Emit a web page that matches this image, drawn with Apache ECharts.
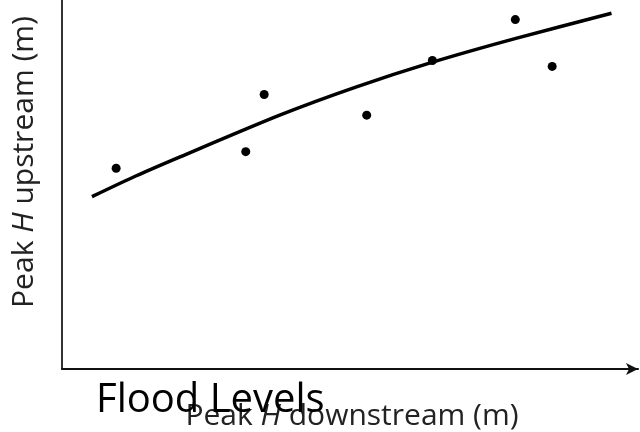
<!DOCTYPE html>
<html>
<head>
<meta charset="utf-8">
<script src="https://cdn.jsdelivr.net/npm/echarts@6/dist/echarts.min.js"></script>
<style>html,body{margin:0;padding:0;background:#fff;}#c{width:640px;height:432px;}</style>
</head>
<body>
<div id="c"></div>
<script>
// Observed points (arbitrary units, axes have no ticks)
const obsX = [9.4, 31.9, 35.1, 52.9, 64.3, 78.7, 85.1];
const obsY = [54.4, 58.9, 74.4, 68.8, 83.6, 94.7, 82.0];
// Fitted curve
const fitX = [5.2, 12.8, 20.5, 37.8, 51.0, 64.2, 78.8, 95.4];
const fitY = [46.7, 52.3, 57.5, 68.8, 76.4, 83.1, 89.6, 96.4];

const titleText = 'Flood Levels';
const xName = '{n|Peak }{i|H}{n| downstream (m)}';
const yName = '{n|Peak }{i|H}{n| upstream (m)}';

const chart = echarts.init(document.getElementById('c'), null, {renderer: 'canvas'});
const labelRich = {
  n: {fontFamily: 'Open Sans', fontSize: 30, fill: '#222'},
  i: {fontFamily: 'Open Sans', fontSize: 30, fill: '#222', fontStyle: 'italic'}
};
chart.setOption({
  backgroundColor: '#fff',
  animation: false,
  grid: {left: 62, right: 2, top: 0, bottom: 63, outerBoundsMode: 'none', containLabel: false},
  xAxis: {
    type: 'value', min: 0, max: 100,
    axisLine: {show: true, symbol: ['none', 'arrow'], symbolSize: [9, 12], lineStyle: {color: '#111', width: 2}},
    axisTick: {show: false}, axisLabel: {show: false}, splitLine: {show: false}
  },
  yAxis: {
    type: 'value', min: 0, max: 100,
    axisLine: {show: true, lineStyle: {color: '#333', width: 2}},
    axisTick: {show: false}, axisLabel: {show: false}, splitLine: {show: false}
  },
  graphic: [
    {
      type: 'text', x: 24, y: 162, rotation: Math.PI / 2,
      style: {text: yName, rich: labelRich, align: 'center', verticalAlign: 'middle'}
    },
    {
      type: 'text', x: 352, y: 416,
      style: {text: xName, rich: labelRich, align: 'center', verticalAlign: 'middle'}
    },
    {
      type: 'text', x: 96, y: 401,
      style: {text: titleText, fontFamily: 'Open Sans', fontSize: 40, fill: '#000', align: 'left', verticalAlign: 'middle'}
    }
  ],
  series: [
    {
      type: 'line', data: fitX.map((x, i) => [x, fitY[i]]),
      smooth: 0.25, showSymbol: false, symbol: 'none',
      lineStyle: {color: '#000', width: 3.5}
    },
    {
      type: 'scatter', data: obsX.map((x, i) => [x, obsY[i]]),
      symbolSize: 9, itemStyle: {color: '#000', opacity: 1}
    }
  ]
});
</script>
</body>
</html>
